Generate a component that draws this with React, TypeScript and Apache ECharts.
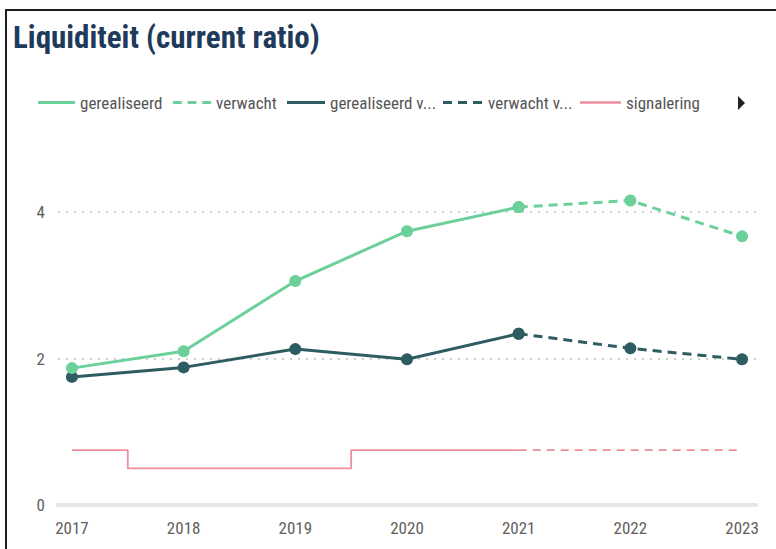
import React, { useEffect, useRef } from "react";
import * as echarts from "echarts";

// ---- data ----
const years = [2017, 2018, 2019, 2020, 2021, 2022, 2023];
const gerealiseerd = [1.87, 2.1, 3.06, 3.74, 4.07, null, null];
const verwacht = [null, null, null, null, 4.07, 4.16, 3.67];
const gerealiseerdV = [1.75, 1.88, 2.13, 1.99, 2.34, null, null];
const verwachtV = [null, null, null, null, 2.34, 2.14, 1.99];
const signalering = [0.75, 0.5, 0.5, 0.75, 0.75, null, null];
const signaleringVerwacht = [null, null, null, null, 0.75, 0.75, 0.75];

const legendNames = ["gerealiseerd", "verwacht", "gerealiseerd v...", "verwacht v...", "signalering"];

const GREEN = "#6cd09b";
const DARK = "#2d5d60";
const PINK = "#ef8e9b";
const FONT = '"Roboto Condensed", "Roboto", sans-serif';

const pairs = (arr: (number | null)[]) =>
  years.map((y, i) => [y, arr[i]]).filter((p) => p[1] !== null);

const DASH3 = "path://M0 0h9v3h-9zM15 0h9v3h-9zM30 0h9v3h-9z";

export default function App() {
  const ref = useRef<HTMLDivElement>(null);
  useEffect(() => {
    const chart = echarts.init(ref.current!, null, { renderer: "svg" });
    const legendBase = {
      top: 94,
      itemHeight: 3,
      selectedMode: false,
      textStyle: { fontFamily: FONT, fontSize: 17, color: "#555555" },
      padding: 0,
    };
    chart.setOption({
      animation: false,
      title: {
        text: "Liquiditeit (current ratio)",
        left: 13,
        top: 22,
        padding: 0,
        textStyle: { fontFamily: FONT, fontWeight: "bold", fontSize: 31, color: "#1f3b5b" },
      },
      legend: [
        { ...legendBase, left: 38, itemWidth: 37, icon: "rect", data: [legendNames[0]] },
        { ...legendBase, left: 173, itemWidth: 38, icon: DASH3, data: [legendNames[1]] },
        { ...legendBase, left: 287, itemWidth: 38, icon: "rect", data: [legendNames[2]] },
        { ...legendBase, left: 443, itemWidth: 41, icon: DASH3, data: [legendNames[3]] },
        { ...legendBase, left: 580, itemWidth: 41, icon: "rect", itemHeight: 2.5, data: [legendNames[4]] },
      ],
      grid: { left: 58, right: 20, top: 139, bottom: 44 },
      xAxis: {
        type: "value",
        min: 2016.875,
        max: 2023.125,
        minInterval: 1,
        maxInterval: 1,
        splitLine: { show: false },
        axisTick: { show: false },
        axisLine: { show: true, lineStyle: { color: "#e6e6e6", width: 4 } },
        axisLabel: {
          margin: 14,
          fontFamily: FONT,
          fontSize: 17,
          color: "#605e5c",
          formatter: (v: number) => (Number.isInteger(v) ? String(v) : ""),
        },
      },
      yAxis: {
        type: "value",
        min: 0,
        max: 5,
        interval: 2,
        axisLine: { show: false },
        axisTick: { show: false },
        axisLabel: { margin: 13, fontFamily: FONT, fontSize: 17, color: "#605e5c", showMaxLabel: false },
        splitLine: {
          show: true,
          showMinLine: false,
          showMaxLine: false,
          lineStyle: { color: "#bdbdbd", width: 1.5, type: [2, 6] },
        },
      },
      graphic: [
        {
          type: "polygon",
          shape: { points: [[738, 96], [745, 103], [738, 110]] },
          style: { fill: "#222222" },
        },
      ],
      series: [
        {
          name: legendNames[4],
          type: "line",
          step: "middle",
          data: pairs(signalering),
          symbol: "none",
          color: PINK,
          lineStyle: { color: PINK, width: 1.8 },
          z: 1,
        },
        {
          name: legendNames[4] + " verwacht",
          type: "line",
          data: pairs(signaleringVerwacht),
          symbol: "none",
          color: PINK,
          lineStyle: { color: PINK, width: 1.8, type: [8, 6] },
          z: 1,
        },
        {
          name: legendNames[2],
          type: "line",
          data: pairs(gerealiseerdV),
          symbol: "circle",
          symbolSize: 12,
          color: DARK,
          lineStyle: { color: DARK, width: 3 },
          z: 3,
        },
        {
          name: legendNames[3],
          type: "line",
          data: pairs(verwachtV),
          symbol: "circle",
          symbolSize: 12,
          color: DARK,
          lineStyle: { color: DARK, width: 3, type: [9, 6] },
          z: 3,
        },
        {
          name: legendNames[0],
          type: "line",
          data: pairs(gerealiseerd),
          symbol: "circle",
          symbolSize: 12,
          color: GREEN,
          lineStyle: { color: GREEN, width: 3 },
          z: 4,
        },
        {
          name: legendNames[1],
          type: "line",
          data: pairs(verwacht),
          symbol: "circle",
          symbolSize: 12,
          color: GREEN,
          lineStyle: { color: GREEN, width: 3, type: [9, 6] },
          z: 4,
        },
      ],
    });
    return () => chart.dispose();
  }, []);
  return (
    <div style={{ position: "absolute", left: 0, top: 0, width: 776, height: 549, background: "#ffffff", overflow: "hidden" }}>
      <div ref={ref} style={{ position: "absolute", left: 0, top: 0, width: 776, height: 549 }} />
      <div
        style={{
          position: "absolute",
          left: 5,
          top: 9,
          right: 0,
          bottom: 0,
          borderTop: "2px solid #1e1e1e",
          borderLeft: "2px solid #1e1e1e",
          pointerEvents: "none",
        }}
      />
    </div>
  );
}
